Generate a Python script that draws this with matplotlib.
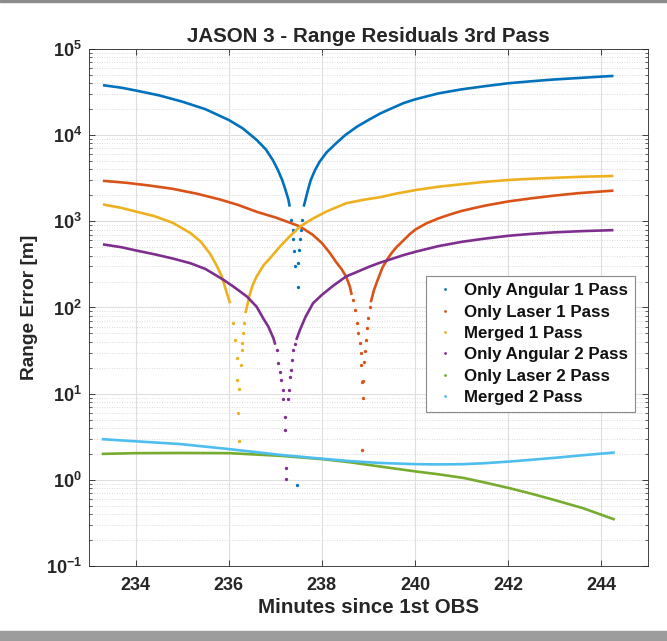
"""Range residuals for the third JASON 3 pass (log-scale error vs time)."""
import matplotlib

matplotlib.use("Agg")
import matplotlib.pyplot as plt
import numpy as np
from matplotlib.lines import Line2D
from matplotlib.patches import Rectangle
from matplotlib.ticker import FixedLocator, FuncFormatter, LogLocator, NullFormatter

plt.rcParams["font.family"] = ["Liberation Sans", "DejaVu Sans"]
plt.rcParams["font.weight"] = "bold"
plt.rcParams["mathtext.fontset"] = "custom"
plt.rcParams["mathtext.rm"] = "Liberation Sans:bold"
plt.rcParams["mathtext.bf"] = "Liberation Sans:bold"

# --- Only Angular 1 Pass -------------------------------------------------
ang1_left_t = [233.3, 233.7, 234.0, 234.5, 235.0, 235.5, 236.0, 236.3, 236.6, 236.8, 236.95,
               237.05, 237.15, 237.22, 237.28, 237.31]
ang1_left_v = [38000, 35500, 33000, 29000, 24500, 20000, 15000, 12000, 8800, 6800, 5100,
               4000, 3000, 2300, 1800, 1480]
ang1_dip_t = [237.34, 237.37, 237.39, 237.41, 237.43, 237.47, 237.48, 237.49, 237.51, 237.53, 237.55, 237.58]
ang1_dip_v = [1040, 790, 620, 455, 303, 0.87, 175, 330, 470, 620, 790, 1040]
ang1_right_t = [237.61, 237.65, 237.70, 237.76, 237.85, 237.95, 238.1, 238.3, 238.5, 238.75, 239.0,
                239.25, 239.5, 239.75, 240.0, 240.5, 241.0, 241.5, 242.0, 242.5, 243.0, 243.5,
                244.0, 244.26]
ang1_right_v = [1480, 1800, 2300, 3000, 3900, 4900, 6300, 8000, 10000, 12500, 15000,
                17800, 20500, 23500, 26000, 30500, 34000, 37000, 40000, 42200, 44300, 46000,
                47800, 48700]

# --- Only Laser 1 Pass ---------------------------------------------------
las1_left_t = [233.3, 233.8, 234.3, 234.8, 235.3, 235.8, 236.2, 236.6, 237.0, 237.3, 237.53,
               237.8, 238.0, 238.17, 238.3, 238.42, 238.52, 238.6, 238.64]
las1_left_v = [2950, 2800, 2600, 2380, 2100, 1800, 1550, 1290, 1110, 970, 870,
               700, 560, 430, 340, 280, 229, 175, 140]
las1_dip_t = [238.66, 238.72, 238.75, 238.77, 238.81, 238.83, 238.84, 238.86, 238.89, 238.87,
              238.88, 238.91, 238.92, 238.95, 238.97, 239.0, 239.03]
las1_dip_v = [122, 94, 66, 50, 39, 30, 21.6, 13.8, 8.9, 2.23,
              14.2, 23.6, 30.9, 42, 57.5, 75, 102]
las1_right_t = [239.05, 239.12, 239.2, 239.3, 239.4, 239.5, 239.6, 239.75, 239.9, 240.02,
                240.25, 240.5, 240.75, 241.0, 241.5, 242.0, 242.5, 243.0, 243.5, 244.0, 244.26]
las1_right_v = [115, 160, 210, 290, 360, 430, 500, 600, 720, 810,
                950, 1080, 1200, 1320, 1520, 1700, 1850, 1990, 2120, 2220, 2270]

# --- Merged 1 Pass -------------------------------------------------------
mer1_left_t = [233.3, 233.7, 234.0, 234.4, 234.8, 235.18, 235.4, 235.6, 235.75, 235.85, 235.96, 236.03]
mer1_left_v = [1570, 1430, 1300, 1150, 960, 730, 580, 420, 300, 230, 147, 112]
mer1_dip_t = [236.09, 236.14, 236.17, 236.18, 236.21, 236.22, 236.23, 236.26, 236.28, 236.29, 236.31, 236.33]
mer1_dip_v = [66, 42, 26, 14.5, 5.9, 2.86, 11.3, 21.6, 32, 38.6, 50, 66]
mer1_right_t = [236.36, 236.45, 236.52, 236.6, 236.75, 236.9, 237.1, 237.3, 237.53, 237.8, 238.1,
                238.52, 238.9, 239.24, 239.6, 240.02, 240.5, 241.02, 241.5, 242.01, 242.5, 243.0,
                243.6, 244.26]
mer1_right_v = [86, 140, 185, 229, 310, 380, 510, 660, 870, 1070, 1300,
                1620, 1780, 1900, 2100, 2310, 2520, 2700, 2870, 3020, 3120, 3200,
                3290, 3360]

# --- Only Angular 2 Pass -------------------------------------------------
ang2_left_t = [233.3, 233.7, 234.0, 234.4, 234.8, 235.18, 235.5, 235.89, 236.1, 236.39, 236.6,
               236.74, 236.85, 236.96, 237.0]
ang2_left_v = [540, 500, 460, 415, 370, 326, 280, 209, 175, 134, 102,
               75, 60, 44, 37]
ang2_dip_t = [237.03, 237.06, 237.10, 237.13, 237.17, 237.17, 237.21, 237.21, 237.22, 237.23,
              237.28, 237.29, 237.31, 237.33, 237.36, 237.38, 237.42]
ang2_dip_v = [32, 22.6, 18, 14.4, 10.9, 8.6, 5.4, 3.8, 1.39, 1.02,
              8.6, 10.9, 15.8, 18.9, 24.7, 32, 38]
ang2_right_t = [237.45, 237.53, 237.65, 237.81, 238.0, 238.25, 238.52, 238.8, 239.0, 239.24,
                239.48, 239.75, 240.02, 240.5, 241.02, 241.5, 242.01, 242.5, 243.0, 243.6, 244.26]
ang2_right_v = [42, 55, 78, 112, 140, 180, 229, 265, 295, 330,
                363, 405, 445, 515, 580, 630, 680, 715, 745, 770, 790]

# --- Only Laser 2 Pass ---------------------------------------------------
las2_t = [233.3, 234.0, 234.96, 236.02, 237.1, 238.0, 238.6, 239.24, 240.02, 240.5, 241.05,
          241.5, 242.03, 242.5, 242.96, 243.6, 244.26]
las2_v = [2.0, 2.04, 2.05, 2.04, 1.9, 1.74, 1.6, 1.43, 1.25, 1.16, 1.05,
          0.93, 0.8, 0.69, 0.59, 0.47, 0.35]

# --- Merged 2 Pass -------------------------------------------------------
mer2_t = [233.3, 234.0, 234.96, 236.02, 237.1, 238.0, 238.6, 239.24, 240.02, 240.5, 241.05,
          241.5, 242.03, 242.5, 243.0, 243.6, 244.26]
mer2_v = [2.96, 2.8, 2.6, 2.27, 1.95, 1.76, 1.65, 1.57, 1.52, 1.51, 1.52,
          1.56, 1.63, 1.71, 1.8, 1.93, 2.07]

labels = ["Only Angular 1 Pass", "Only Laser 1 Pass", "Merged 1 Pass",
          "Only Angular 2 Pass", "Only Laser 2 Pass", "Merged 2 Pass"]
colors = ["#0072BD", "#D95319", "#EDB120", "#7E2F8E", "#77AC30", "#4DBEEE"]

x_ticks = [234, 236, 238, 240, 242, 244]

fig = plt.figure(figsize=(6.67, 6.41), dpi=100)
ax = fig.add_axes([0.1334, 0.117, 0.838, 0.8066])

# two-branch curves with scattered samples around the zero crossing
dipping = [
    (ang1_left_t, ang1_left_v, ang1_dip_t, ang1_dip_v, ang1_right_t, ang1_right_v),
    (las1_left_t, las1_left_v, las1_dip_t, las1_dip_v, las1_right_t, las1_right_v),
    (mer1_left_t, mer1_left_v, mer1_dip_t, mer1_dip_v, mer1_right_t, mer1_right_v),
    (ang2_left_t, ang2_left_v, ang2_dip_t, ang2_dip_v, ang2_right_t, ang2_right_v),
]
for (lt, lv, dt, dv, rt, rv), c in zip(dipping, colors[:4]):
    ax.plot(lt, lv, color=c, lw=1.9, solid_capstyle="butt", solid_joinstyle="round", zorder=3)
    ax.plot(rt, rv, color=c, lw=1.9, solid_capstyle="butt", solid_joinstyle="round", zorder=3)
    ax.plot(dt, dv, "o", color=c, ms=2.4, mew=0, zorder=3)

ax.plot(las2_t, las2_v, color=colors[4], lw=1.9, zorder=3)
ax.plot(mer2_t, mer2_v, color=colors[5], lw=1.9, zorder=3)

ax.set_yscale("log")
ax.set_xlim(233, 245)
ax.set_ylim(1e-1, 1e5)
ax.xaxis.set_major_locator(FixedLocator(x_ticks))
ax.yaxis.set_major_locator(LogLocator(base=10, numticks=10))
ax.yaxis.set_minor_locator(LogLocator(base=10, subs=np.arange(2, 10), numticks=20))
ax.yaxis.set_minor_formatter(NullFormatter())
ax.yaxis.set_major_formatter(FuncFormatter(lambda v, _: r"$\mathbf{10^{%d}}$" % round(np.log10(v))))

ax.grid(True, which="major", color="#dedede", lw=0.8, ls="-")
ax.grid(True, which="minor", axis="y", color="#cfcfcf", lw=0.6, ls=(0, (1, 2)))
ax.set_axisbelow(True)

ax.tick_params(which="both", direction="in", top=True, right=True, colors="#262626",
               labelsize=13, labelcolor="#262626")
ax.tick_params(which="major", length=4, width=0.6)
ax.tick_params(which="minor", length=2.5, width=0.5)
ax.tick_params(axis="x", pad=8)
ax.tick_params(axis="y", pad=5)
for sp in ax.spines.values():
    sp.set_color("#262626")
    sp.set_linewidth(0.6)

ax.set_title("JASON 3 - Range Residuals 3rd Pass", fontsize=14.8, fontweight="bold",
             color="#262626", pad=5)
ax.set_xlabel("Minutes since 1st OBS", fontsize=14.8, fontweight="bold", color="#262626", labelpad=3)
ax.set_ylabel("Range Error [m]", fontsize=13.8, fontweight="bold", color="#262626", labelpad=6)

handles = [Line2D([], [], ls="none", marker="o", ms=2, mew=0, color=c) for c in colors]
leg = ax.legend(handles, labels, loc="upper right", bbox_to_anchor=(0.977, 0.561),
                prop={"size": 12.2, "weight": "bold"}, frameon=True, fancybox=False,
                framealpha=1, edgecolor="#8a8a8a", handlelength=1.35, handletextpad=0.45,
                labelspacing=0.38, borderpad=0.42, borderaxespad=0)
leg.get_frame().set_linewidth(0.8)
for txt in leg.get_texts():
    txt.set_color("#111111")

# grey strips along the top and bottom edges of the canvas
fig.patches.append(Rectangle((0, 0), 1, 10 / 641, transform=fig.transFigure,
                             color="#9c9c9c", zorder=0))
fig.patches.append(Rectangle((0, 1 - 2 / 641), 1, 2 / 641, transform=fig.transFigure,
                             color="#8c8c8c", zorder=0))

fig.savefig("out.png", dpi=100)
